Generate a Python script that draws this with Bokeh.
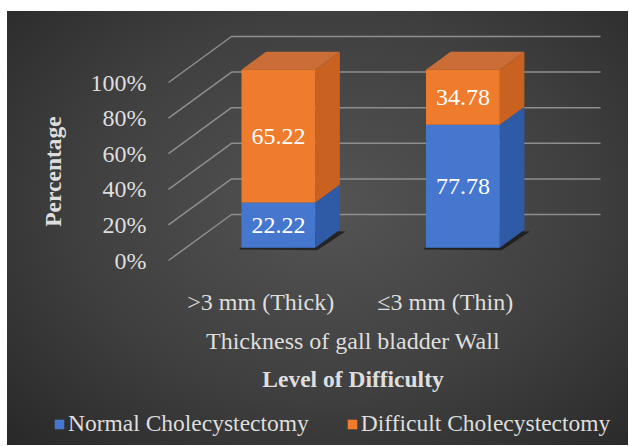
import math
from bokeh.plotting import figure
from bokeh.models import FixedTicker, Label, Legend, LegendItem
from bokeh.core.properties import value
from bokeh.embed import file_html
from bokeh.resources import INLINE

# ---------------- data ----------------
categories = [">3 mm (Thick)", "\u22643 mm (Thin)"]
normal = [22.22, 77.78]
difficult = [65.22, 34.78]
series_names = ["Normal Cholecystectomy", "Difficult Cholecystectomy"]
y_ticks = [0, 20, 40, 60, 80, 100]
y_tick_labels = ["0%", "20%", "40%", "60%", "80%", "100%"]
x_title = "Thickness of gall bladder Wall"
y_title = "Percentage"
legend_title = "Level of Difficulty"

# ---------------- style ----------------
FONT = "Liberation Serif"
TXT = "#dedede"
GRID = "#8e8e8e"
FRONT = ["#4677CE", "#EF7B2C"]
SIDE = ["#2F5AA6", "#C96120"]
TOP = ["#3A66B5", "#CB6D36"]
DX, DY = 0.3415, 25.84     # full floor depth expressed in data units
D0, DB = 0.28, 0.39        # bar front depth and bar depth (fractions of floor depth)
HALF_W = 0.2

p = figure(width=621, height=434, x_range=(-1.3726, 1.9932), y_range=(-103.93, 139.89),
           output_backend="svg", toolbar_location=None,
           min_border_left=0, min_border_right=0, min_border_top=0, min_border_bottom=0)
p.styles = {"margin-left": "7px", "margin-top": "11px",
            "background": "radial-gradient(ellipse 75% 80% at 52% 45%, #545454 0%, #3f3f3f 55%, #272727 100%)"}
p.border_fill_color = None
p.background_fill_color = None
p.outline_line_color = None
p.grid.visible = False
p.title.visible = False

idx = list(range(len(categories)))
x0 = idx[0] - 0.5
x1 = idx[-1] + 0.5

# gridlines (front diagonal + back wall)
gx, gy = [], []
for v in y_ticks:
    gx.append([x0, x0 + DX, x1 + DX])
    gy.append([v, v + DY, v + DY])
p.multi_line(gx, gy, line_color=GRID, line_width=1.5)

# stacked 100% values
totals = [a + b for a, b in zip(normal, difficult)]
pct = [[a / t * 100 for a, t in zip(normal, totals)],
       [b / t * 100 for b, t in zip(difficult, totals)]]
raw = [normal, difficult]

# floor shadows
sx, sy = [], []
for i in idx:
    l = i - HALF_W + D0 * DX
    r = i + HALF_W + D0 * DX
    y0 = D0 * DY
    sx.append([l - 0.015, r + 0.01, r + DB * DX + 0.03, l + DB * DX])
    sy.append([y0 - 1.0, y0 - 1.5, y0 + DB * DY - 1.0, y0 + DB * DY])
p.patches(sx, sy, fill_color="#151515", fill_alpha=0.75, line_color=None)

front_renderers = []
for s in range(2):
    lefts, rights, bots, tops = [], [], [], []
    side_x, side_y, top_x, top_y = [], [], [], []
    lab_x, lab_y, lab_t = [], [], []
    for i in idx:
        b = 0 if s == 0 else pct[0][i]
        t = pct[0][i] if s == 0 else 100
        l = i - HALF_W + D0 * DX
        r = i + HALF_W + D0 * DX
        bb = b + D0 * DY
        tt = t + D0 * DY
        lefts.append(l); rights.append(r); bots.append(bb); tops.append(tt)
        side_x.append([r, r + DB * DX, r + DB * DX, r])
        side_y.append([bb, bb + DB * DY, tt + DB * DY, tt])
        if s == 1:
            top_x.append([l, r, r + DB * DX, l + DB * DX])
            top_y.append([tt, tt, tt + DB * DY, tt + DB * DY])
        lab_x.append(i + D0 * DX)
        lab_y.append((bb + tt) / 2)
        lab_t.append(f"{raw[s][i]:.2f}")
    p.patches(side_x, side_y, fill_color=SIDE[s], line_color=None)
    if top_x:
        p.patches(top_x, top_y, fill_color=TOP[s], line_color=None)
    fr = p.quad(left=lefts, right=rights, bottom=bots, top=tops, fill_color=FRONT[s], line_color=None)
    front_renderers.append(fr)
    p.text(lab_x, lab_y, text=lab_t, text_align="center", text_baseline="middle",
           text_font=value(FONT), text_font_size="24px", text_color="#ffffff")

# axes pinned inside the frame
p.xaxis.fixed_location = 0
p.yaxis.fixed_location = x0
p.xaxis.ticker = FixedTicker(ticks=idx)
p.xaxis.major_label_overrides = {i: c for i, c in zip(idx, categories)}
p.yaxis.ticker = FixedTicker(ticks=y_ticks)
p.yaxis.major_label_overrides = {v: s for v, s in zip(y_ticks, y_tick_labels)}
for ax in (p.xaxis, p.yaxis):
    ax.axis_line_color = None
    ax.major_tick_line_color = None
    ax.minor_tick_line_color = None
    ax.major_label_text_font = FONT
    ax.major_label_text_font_size = "24px"
    ax.major_label_text_color = TXT
p.yaxis.major_label_standoff = 16
p.xaxis.major_label_standoff = 22

mid_x = sum(idx) / len(idx)
mid_y = (y_ticks[0] + y_ticks[-1]) / 2
p.add_layout(Label(x=mid_x, y=0, y_offset=-80, text=x_title, text_align="center", text_baseline="middle",
                   text_font=FONT, text_font_size="24px", text_color=TXT))
p.add_layout(Label(x=mid_x, y=0, y_offset=-118, text=legend_title, text_align="center", text_baseline="middle",
                   text_font=FONT, text_font_size="23.5px", text_font_style="bold", text_color=TXT))
p.add_layout(Label(x=x0, y=mid_y, x_offset=-115, text=y_title, angle=math.pi / 2, text_align="center",
                   text_baseline="middle", text_font=FONT, text_font_size="23.5px", text_font_style="bold",
                   text_color=TXT))

legend = Legend(items=[LegendItem(label=n, renderers=[r]) for n, r in zip(series_names, front_renderers)],
                orientation="horizontal", location=(46, 8), label_text_font=FONT,
                label_text_font_size="23.5px", label_text_color=TXT, glyph_width=12, glyph_height=12,
                label_standoff=3, spacing=37, padding=0, margin=0, border_line_color=None,
                background_fill_alpha=0)
p.add_layout(legend, "center")

open("out.html", "w").write(file_html(p, INLINE))
